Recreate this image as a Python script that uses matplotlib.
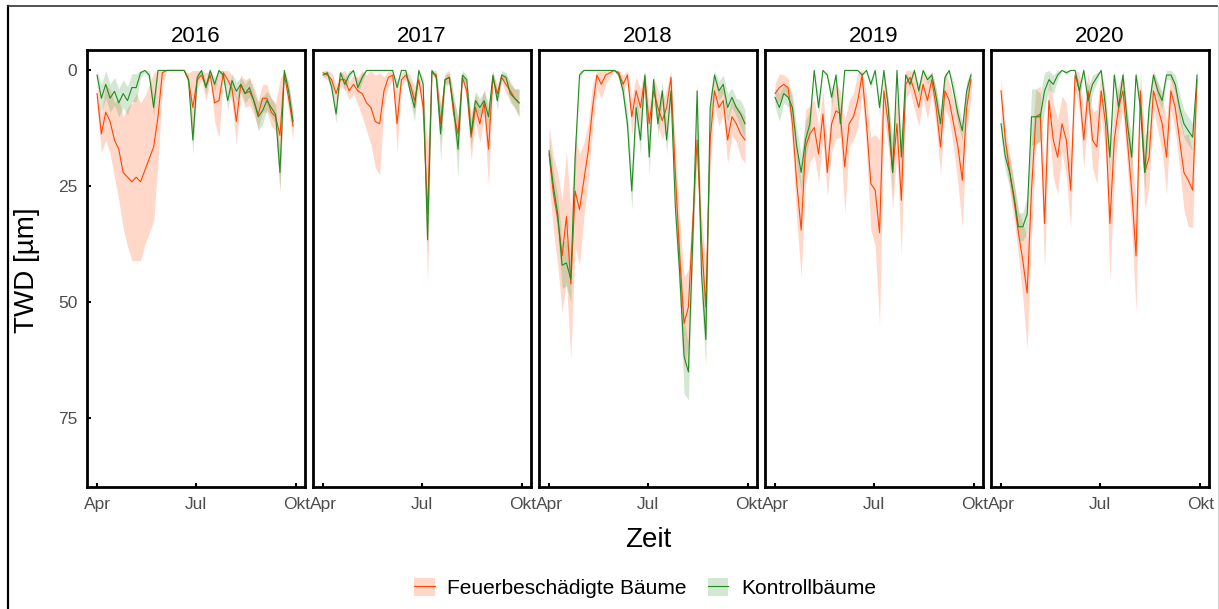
import numpy as np
import matplotlib
matplotlib.use("Agg")
import matplotlib.pyplot as plt
from matplotlib.lines import Line2D
from matplotlib.patches import Patch

plt.rcParams["font.family"] = ["Liberation Sans", "DejaVu Sans"]

# days after 1 April, one value every 4 days
days = np.arange(0, 184, 4)
tick_days = [0, 91, 183]
tick_labels = ["Apr", "Jul", "Okt"]
years = [2016, 2017, 2018, 2019, 2020]

feuer_2016 = [5, 13.7, 9, 11, 15, 17, 22, 23, 24, 23, 24, 21.5, 19, 16.5, 10, 0.5,
              0, 0, 0, 0, 0, 2, 8, 2, 1, 3.5, 1, 7, 6.5, 0.5, 2, 4, 11, 3, 5, 4.5,
              6.5, 9.5, 6, 6, 9, 10, 14, 1, 6, 12]
feuer_sd_2016 = [3, 4, 6, 7, 8, 11, 12, 15, 17, 18, 17, 16, 16, 16, 10, 3,
                 0, 0, 0, 0, 0, 1.5, 8, 2, 1, 3, 1, 4, 8, 1, 2, 3, 5, 2, 3, 3,
                 3, 3, 3, 3, 3, 3, 12, 1, 3, 3]
kontroll_2016 = [1, 6, 3, 6, 4.5, 7, 5, 6.5, 3.7, 3.7, 0.5, 0, 1, 8, 0, 0,
                 0, 0, 0, 0, 0, 2, 15, 1.5, 0, 3.7, 0, 3, 0, 1, 6.5, 2.2, 4.5, 3, 5, 3.7,
                 6.5, 10, 8.7, 6.5, 8, 9.5, 22, 0, 4.5, 11]
kontroll_sd_2016 = [1, 3, 3, 3, 3, 3, 3, 3, 3, 3, 1, 0.5, 1, 2, 0, 0,
                    0, 0, 0, 0, 0, 1, 3, 1, 0.5, 1.5, 0.5, 1.5, 0.5, 1, 2, 1.5, 2, 1.5, 2, 2,
                    2, 3, 3, 2, 2, 2, 4, 0.5, 2, 2]

feuer_2017 = [0.5, 1, 2, 5, 2, 2, 4.4, 3, 4.4, 5, 7, 8, 11, 11.5, 4.4, 1.5,
              1, 11.5, 2, 1, 3, 6.5, 2, 8, 31, 0.5, 1, 11.5, 2, 1.5, 9.4, 13.7,
              1.5, 4.4, 14.4, 8, 11.5, 7, 17, 1.5, 5, 1.5, 3, 4.4, 6, 7]
feuer_sd_2017 = [1, 1, 1.5, 2, 1.5, 2, 2, 2, 3, 5, 6, 8, 10, 11, 3, 2,
                 1, 6, 1.5, 1, 2, 3, 1.5, 3, 15, 0.5, 1, 4, 1.5, 1.5, 3, 4,
                 1, 2, 5, 3, 4, 3, 8, 1, 2, 1, 2, 2, 2, 3]
kontroll_2017 = [1, 0.5, 3.7, 9.4, 0.5, 3, 1, 0, 3.7, 1.5, 0, 0, 0, 0, 0, 0,
                 0, 3.7, 0, 0, 4.4, 8, 0, 3, 36.5, 0, 1.5, 13.7, 2, 1.5, 8, 17,
                 1, 2, 13.7, 6.5, 8, 6.5, 10, 1, 6.5, 1, 1.5, 5, 6, 7]
kontroll_sd_2017 = [0.5, 0.5, 1.5, 2, 0.5, 1.5, 1, 0, 1.5, 1, 0, 0, 0, 0, 0, 0,
                    0, 1.5, 0, 0, 2, 3, 0, 1.5, 3, 0, 1, 6, 1, 1, 3, 6,
                    1, 1, 3, 2, 2, 2, 3, 1, 2, 1, 1, 2, 2, 3]

feuer_2018 = [18, 26.5, 32, 40, 31.5, 46, 26, 30, 23.7, 17.3, 8, 1, 3, 1, 0.5, 0,
              0.5, 3, 1, 10, 4.4, 8, 1.5, 11.5, 4.4, 8, 10.8, 8, 1.5, 22, 40, 54.5,
              51, 33, 15, 36.5, 51, 15, 4.4, 8, 6.5, 15, 10, 11.5, 13.7, 15]
feuer_sd_2018 = [6, 8, 10, 12, 14, 16, 12, 12, 8, 6, 5, 3, 3, 2, 1, 0,
                 1, 2, 1, 4, 3, 4, 2, 4, 3, 4, 4, 4, 2, 6, 8, 10,
                 8, 6, 4, 6, 8, 6, 3, 4, 3, 5, 4, 4, 5, 5]
kontroll_2018 = [17.3, 25, 31, 42, 41.5, 45, 18.7, 1, 0, 0, 0, 0, 0, 0, 0, 0,
                 0.8, 4.4, 11.5, 26, 8, 15, 1, 18.7, 2, 11.5, 4.4, 15, 4.4, 29.4, 43.7, 61.6,
                 65, 36.5, 4.4, 43.7, 58, 8, 1, 4.4, 3, 8, 5.8, 8, 9.4, 11.5]
kontroll_sd_2018 = [3, 3, 4, 5, 5, 5, 4, 1, 0, 0, 0, 0, 0, 0, 0, 0,
                    1, 2, 3, 4, 3, 3, 1, 4, 1, 3, 2, 3, 2, 4, 6, 8,
                    6, 5, 2, 6, 6, 3, 1, 2, 2, 3, 2, 2, 3, 3]

feuer_2019 = [5, 3.7, 3, 3.7, 11.5, 24.4, 34.4, 16.5, 13.7, 12.3, 18, 9.4, 22, 11.5, 8.7, 9.4,
              20.8, 11.5, 10, 6.5, 1, 11.5, 24.4, 25.8, 35, 4.4, 11.5, 22, 11.5, 28, 3, 1.5,
              4.4, 8, 3, 6.5, 2, 8, 16.5, 4.4, 6.5, 11.5, 16.5, 23.7, 8, 2]
feuer_sd_2019 = [2, 3, 2, 2, 5, 8, 10, 8, 6, 6, 6, 5, 5, 6, 6, 5,
                 10, 5, 5, 6, 4, 6, 10, 12, 20, 5, 5, 8, 6, 12, 3, 3,
                 4, 4, 3, 4, 3, 4, 6, 4, 4, 5, 8, 10, 5, 4]
kontroll_2019 = [5.8, 8, 5, 5.8, 8, 16.5, 22, 15, 11.5, 0, 8, 0, 1, 5.8, 1, 11.5,
                 0, 0, 0, 0, 1, 0, 3, 0, 8, 0, 8, 22, 0, 18.7, 1, 3,
                 0, 4.4, 0, 2, 1, 5.8, 11.5, 1.5, 0, 4.4, 9.4, 13, 4.4, 1]
kontroll_sd_2019 = [2, 3, 2, 2, 3, 4, 4, 4, 3, 0.5, 2, 0, 0.5, 2, 0.5, 3,
                    0, 0, 0, 0, 0.5, 0, 1, 0, 2, 0, 2, 5, 0, 4, 0.5, 1,
                    0, 1.5, 0, 1, 0.5, 2, 3, 1, 0, 2, 2, 2, 2, 1]

feuer_2020 = [4.4, 15, 22, 28, 35, 41, 48, 25.8, 10, 9.4, 33, 6.5, 15, 18.7, 11.5, 15,
              25.8, 1, 4.4, 15, 4.4, 15, 16.5, 4.4, 11.5, 33, 15, 8, 4.4, 15, 25.8, 40,
              4.4, 22, 18.7, 4.4, 8, 11.5, 18.7, 4.4, 8, 15, 22, 23.7, 25.8, 2]
feuer_sd_2020 = [3, 3, 4, 4, 5, 8, 12, 10, 6, 6, 10, 6, 8, 8, 6, 8,
                 8, 3, 4, 6, 4, 6, 8, 5, 6, 12, 8, 5, 4, 6, 8, 12,
                 5, 8, 6, 4, 5, 6, 8, 4, 5, 6, 8, 10, 8, 3]
kontroll_2020 = [11.5, 18.7, 22, 27.3, 33.7, 33.7, 31, 10, 10, 10, 4.4, 2, 3, 1, 0, 0.5,
                 0, 0, 4.4, 0, 6.5, 3, 1.5, 0, 8, 18.7, 1, 8, 1, 11.5, 18.7, 1,
                 8, 22, 8, 1, 4.4, 6.5, 1, 1, 3, 8, 11.5, 13, 14.4, 1]
kontroll_sd_2020 = [3, 3, 3, 3, 3, 3, 4, 6, 6, 5, 4, 2, 2, 1, 0, 0.5,
                    0, 0, 2, 0, 3, 2, 1, 0, 3, 4, 1, 3, 1, 3, 4, 1,
                    3, 4, 3, 1, 2, 2, 1, 1, 2, 3, 3, 3, 3, 1]

feuer = [feuer_2016, feuer_2017, feuer_2018, feuer_2019, feuer_2020]
feuer_sd = [feuer_sd_2016, feuer_sd_2017, feuer_sd_2018, feuer_sd_2019, feuer_sd_2020]
kontroll = [kontroll_2016, kontroll_2017, kontroll_2018, kontroll_2019, kontroll_2020]
kontroll_sd = [kontroll_sd_2016, kontroll_sd_2017, kontroll_sd_2018, kontroll_sd_2019,
               kontroll_sd_2020]

red_line = "#FF4500"
red_fill = "#FF7F50"
green_line = "#228B22"
green_fill = "#3A9A3A"

W, H = 1219, 609
fig = plt.figure(figsize=(W / 100, H / 100), dpi=100)

left0, step, width = 87, 226, 218
top, bottom = 50, 487

for i, year in enumerate(years):
    ax = fig.add_axes([(left0 + i * step) / W, 1 - bottom / H, width / W, (bottom - top) / H])
    f = np.array(feuer[i])
    fs = np.array(feuer_sd[i])
    k = np.array(kontroll[i])
    ks = np.array(kontroll_sd[i])

    ax.fill_between(days, np.clip(f - fs, 0, None), f + fs, color=red_fill, alpha=0.3, lw=0)
    ax.fill_between(days, np.clip(k - ks, 0, None), k + ks, color=green_fill, alpha=0.22, lw=0)
    ax.plot(days, f, color=red_line, lw=0.8)
    ax.plot(days, k, color=green_line, lw=0.8)

    ax.set_xlim(-9.2, 191)
    ax.set_ylim(89.8, -4.4)
    ax.set_xticks(tick_days)
    ax.set_xticklabels(tick_labels)
    ax.set_yticks([0, 25, 50, 75])
    ax.tick_params(direction="in", length=3, width=1.5, colors="black",
                   labelcolor="#4D4D4D", labelsize=12.5, pad=7)
    if i > 0:
        ax.set_yticklabels([])
        ax.tick_params(axis="y", length=0)
    for s in ax.spines.values():
        s.set_linewidth(2)
    ax.set_title(str(year), fontsize=16, pad=6)

fig.text(648 / W, 1 - 540 / H, "Zeit", fontsize=20, ha="center", va="center")
fig.text(27 / W, 1 - 270 / H, "TWD [µm]", fontsize=20, ha="center", va="center",
         rotation=90)

handles = [
    (Patch(facecolor=red_fill, alpha=0.3, lw=0), Line2D([], [], color=red_line, lw=0.8)),
    (Patch(facecolor=green_fill, alpha=0.22, lw=0), Line2D([], [], color=green_line, lw=0.8)),
]
fig.legend(handles, ["Feuerbeschädigte Bäume", "Kontrollbäume"], loc="center",
           bbox_to_anchor=(0.529, 1 - 588 / H), ncol=2, frameon=False, fontsize=15,
           handlelength=1.0, handleheight=1.0, columnspacing=1.0, handletextpad=0.6)

# outer frame of the screenshot
fig.add_artist(Line2D([7.5 / W, 7.5 / W], [0, 1 - 6 / H], transform=fig.transFigure,
                      color="black", lw=1.6))
fig.add_artist(Line2D([7.5 / W, 1217 / W], [1 - 6 / H, 1 - 6 / H], transform=fig.transFigure,
                      color="#333333", lw=1.2))
fig.add_artist(Line2D([1217.5 / W, 1217.5 / W], [0, 1 - 6 / H], transform=fig.transFigure,
                      color="#D0D0D0", lw=0.8))

fig.savefig("out.png", dpi=100)
